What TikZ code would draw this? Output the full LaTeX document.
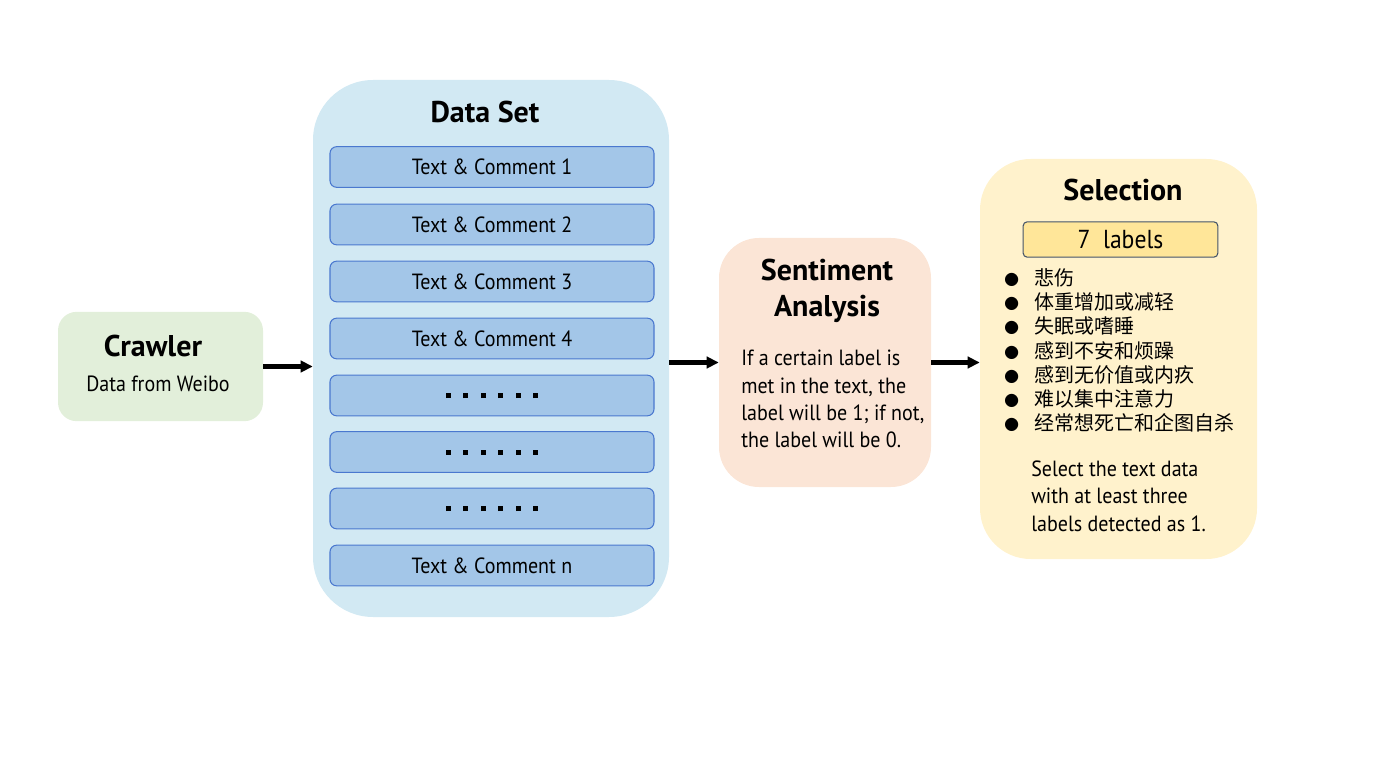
\documentclass[tikz,border=0pt]{standalone}
\usepackage{fontspec}
\setmainfont{PT Sans}[FakeStretch=0.91]
\newfontfamily\titlefont{PT Sans}
\newfontfamily\cjk{Noto Sans CJK SC}
\usetikzlibrary{arrows.meta}
\definecolor{crawlfill}{HTML}{E2EFDA}
\definecolor{setfill}{HTML}{D2E9F3}
\definecolor{itemfill}{HTML}{A3C6E8}
\definecolor{itemline}{HTML}{4A78CF}
\definecolor{sentfill}{HTML}{FBE5D6}
\definecolor{selfill}{HTML}{FFF2CC}
\definecolor{labfill}{HTML}{FFE699}
\definecolor{labline}{HTML}{44546A}
\newcommand\dotrow{\rule{3.75pt}{3.75pt}\hspace{9.3pt}\rule{3.75pt}{3.75pt}\hspace{9.3pt}\rule{3.75pt}{3.75pt}\hspace{9.3pt}\rule{3.75pt}{3.75pt}\hspace{9.3pt}\rule{3.75pt}{3.75pt}\hspace{9.3pt}\rule{3.75pt}{3.75pt}}
\tikzset{
  container/.style={rectangle, rounded corners=#1, inner sep=0pt},
  itembox/.style={rectangle, rounded corners=5pt, draw=itemline, line width=0.8pt, fill=itemfill,
     minimum width=243pt, minimum height=30.5pt, inner sep=0pt,
     font=\fontsize{16.5}{19}\selectfont},
  titletext/.style={inner sep=0pt, font=\titlefont\bfseries\fontsize{22.5}{26.5}\selectfont},
  bodytext/.style={inner sep=0pt, font=\fontsize{16.5}{20.4}\selectfont},
  flow/.style={line width=3.3pt, -{Triangle[length=9pt,width=8.5pt]}},
}
\begin{document}
\begin{tikzpicture}[x=0.75pt,y=-0.75pt]
\useasboundingbox (0,0) rectangle (1373,773);
% containers
\node[container=14pt, fill=crawlfill, minimum width=153.75pt, minimum height=82pt] (crawler) at (160.5,366.5) {};
\node[container=45pt, fill=setfill, minimum width=267pt, minimum height=402.75pt] (dataset) at (491,348.5) {};
\node[container=30pt, fill=sentfill, minimum width=159pt, minimum height=186.75pt] (sentiment) at (825,362.5) {};
\node[container=38pt, fill=selfill, minimum width=207.75pt, minimum height=300pt] (selection) at (1118.5,359) {};
% titles
\node[titletext] (crawlertitle) at (153,346) {Crawler};
\node[bodytext] (crawlersub) at (158,384) {Data from Weibo};
\node[titletext] (settitle) at (485,112) {Data Set};
\node[titletext, align=center] (senttitle) at (827,291) {Sentiment\\Analysis};
\node[titletext] (seltitle) at (1123,190) {Selection};
% data items
\node[itembox] (i1) at (492,167) {Text \& Comment 1};
\node[itembox] (i2) at (492,224.5) {Text \& Comment 2};
\node[itembox] (i3) at (492,281.5) {Text \& Comment 3};
\node[itembox] (i4) at (492,338.5) {Text \& Comment 4};
\node[itembox] (i5) at (492,395.5) {\dotrow};
\node[itembox] (i6) at (492,452) {\dotrow};
\node[itembox] (i7) at (492,508.5) {\dotrow};
\node[itembox] (i8) at (492,565.5) {Text \& Comment n};
% sentiment body (anchor = baseline of last line)
\node[bodytext, align=left, anchor=base west] (sentbody) at (741,447.5)
  {If a certain label is\\met in the text, the\\label will be 1; if not,\\the label will be 0.};
% selection content
\node[rectangle, rounded corners=3pt, draw=labline, line width=0.8pt, fill=labfill,
      minimum width=146pt, minimum height=26.5pt, inner sep=0pt,
      font=\fontsize{19.5}{22}\selectfont] (labels) at (1120.5,239.5) {7\ \ labels};
\node[inner sep=0pt, anchor=north west, align=left,
      font=\fontsize{15}{18.2}\selectfont] (bullets) at (1004,268) {%
  \begin{tabular}{@{}l@{\hspace{12pt}}l@{}}
  \fontsize{11}{18.2}\selectfont\cjk ● & \cjk 悲伤\\
  \fontsize{11}{18.2}\selectfont\cjk ● & \cjk 体重增加或减轻\\
  \fontsize{11}{18.2}\selectfont\cjk ● & \cjk 失眠或嗜睡\\
  \fontsize{11}{18.2}\selectfont\cjk ● & \cjk 感到不安和烦躁\\
  \fontsize{11}{18.2}\selectfont\cjk ● & \cjk 感到无价值或内疚\\
  \fontsize{11}{18.2}\selectfont\cjk ● & \cjk 难以集中注意力\\
  \fontsize{11}{18.2}\selectfont\cjk ● & \cjk 经常想死亡和企图自杀
  \end{tabular}};
\node[bodytext, align=left, anchor=base west] (selbody) at (1031,531)
  {Select the text data\\with at least three\\labels detected as 1.};
% connectors
\draw[flow] (crawler.east) -- (crawler.east -| dataset.west);
\draw[flow] (dataset.east |- sentiment.west) -- (sentiment.west);
\draw[flow] (sentiment.east) -- (sentiment.east -| selection.west);
\end{tikzpicture}
\end{document}
